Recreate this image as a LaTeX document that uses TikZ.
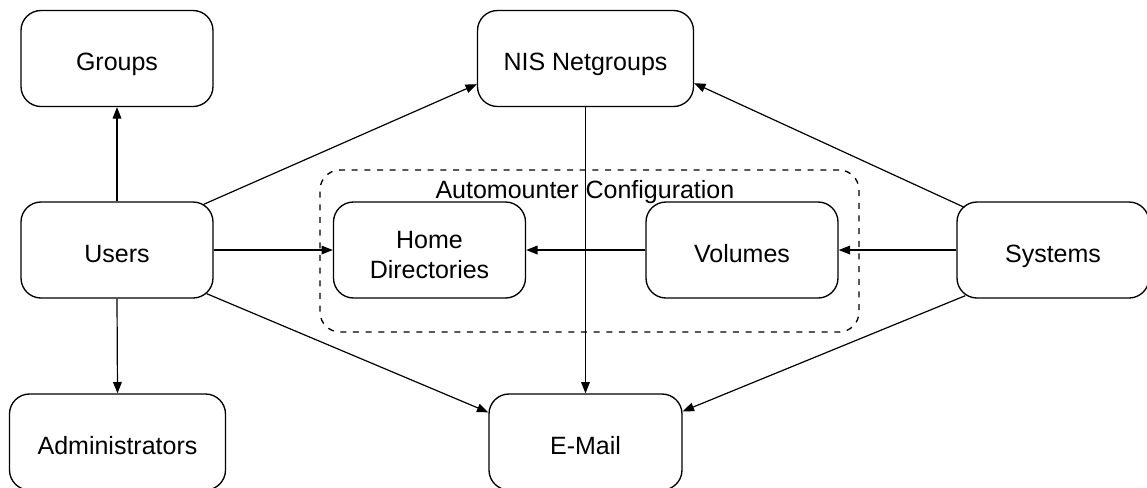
\documentclass[tikz,border=0pt]{standalone}
\usepackage{fontspec}
\setmainfont{Liberation Sans}
\usetikzlibrary{arrows.meta,calc,positioning}

\tikzset{every picture/.style={line width=1pt}}
\tikzset{
  box/.style={draw, rounded corners=15pt, minimum width=144pt, minimum height=72pt,
    inner sep=0pt, align=center, text height=18pt, text depth=0pt,
    font=\fontsize{18.75pt}{22.5pt}\selectfont},
  widebox/.style={minimum width=162pt},
  region/.style={draw, rounded corners=15pt, dash pattern=on 4.5pt off 5pt},
  link/.style={line width=0.9pt, -{Triangle[length=8.5pt,width=6.5pt]}},
}

\begin{document}
\begin{tikzpicture}[x=0.75pt,y=0.75pt,yscale=-1]
\useasboundingbox (0,0) rectangle (1147,487);

%Automounter region
\node (automount) [region, minimum width=404.25pt, minimum height=121.5pt] at (589.5,251) {};
\node (autolabel) [below=7.5pt of automount.north, xshift=-3.4pt, inner sep=0pt,
  font=\fontsize{18.75pt}{22.5pt}\selectfont] {Automounter Configuration};

%Boxes
\node (groups) [box] at (117,58.5) {Groups};
\node (nis) [box, widebox] at (585.5,58.5) {NIS Netgroups};
\node (users) [box] at (117,250) {Users};
\node (homedir) [box, text height=42pt] at (429.5,250) {Home\\Directories};
\node (volumes) [box] at (742,250) {Volumes};
\node (systems) [box] at (1053,250) {Systems};
\node (admin) [box, widebox] at (117.5,442) {Administrators};
\node (email) [box, minimum width=144.75pt] at (585.5,442) {E-Mail};

%Connectors
\draw [link] (users.north) -- (groups.south);
\draw [link] (users.south) -- (admin.north);
\draw [link] (users.east) -- (homedir.west);
\draw [link] (volumes.west) -- (homedir.east);
\draw [link] (systems.west) -- (volumes.east);
\draw [link] (nis.south) -- (email.north);
\draw [link] ($(users.north east)+(-10,3)$) -- ($(nis.south west)+(0,-23)$);
\draw [link] ($(users.south east)+(-7,-5)$) -- ($(email.north west)+(0,19)$);
\draw [link] ($(systems.north west)+(8,6)$) -- ($(nis.south east)+(0,-24)$);
\draw [link] ($(systems.south west)+(9,-3)$) -- ($(email.north east)+(0,18)$);

\end{tikzpicture}
\end{document}
